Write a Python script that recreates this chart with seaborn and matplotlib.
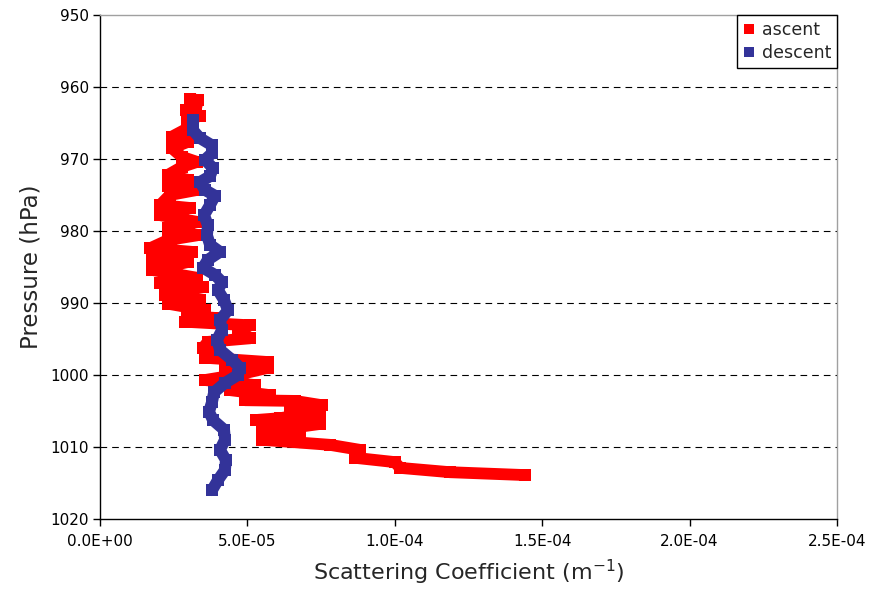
import numpy as np
import pandas as pd
import matplotlib
matplotlib.use("Agg")
import matplotlib.pyplot as plt
from matplotlib.lines import Line2D
from matplotlib.ticker import FuncFormatter
import seaborn as sns

# ---- data (scattering in units of 1e-5 m^-1, pressure in hPa) ----
ascent_pressure = [961.7, 961.8, 962.9, 963.2, 964.0, 964.6, 965.7, 966.9, 967.6, 968.5,
                   969.7, 970.4, 971.1, 972.2, 972.9, 973.8, 974.3, 975.0, 976.4, 976.8,
                   977.8, 978.75, 979.6, 980.6, 981.25, 982.4, 982.9, 983.75, 984.3, 985.4,
                   986.5, 987.2, 987.8, 988.9, 989.6, 990.1, 991.0, 991.8, 992.1, 992.6,
                   993.1, 994.0, 994.9, 995.4, 996.25, 996.8, 997.6, 998.2, 998.75, 999.0,
                   999.9, 1000.7, 1001.4, 1002.1, 1002.8, 1003.5, 1003.6, 1004.2, 1004.9, 1005.1,
                   1006.0, 1006.25, 1006.8, 1007.9, 1008.0, 1009.0, 1009.7, 1010.4, 1011.5, 1012.1,
                   1012.9, 1013.5, 1013.9]
ascent_scatter = [3.05, 3.32, 3.26, 2.92, 3.39, 2.95, 2.99, 2.44, 2.99, 2.44,
                  2.78, 3.29, 2.78, 2.31, 2.99, 2.31, 3.29, 2.37, 2.04, 3.05,
                  2.04, 3.32, 2.31, 3.29, 2.31, 1.70, 3.12, 1.76, 2.99, 1.76,
                  3.29, 2.04, 3.49, 2.20, 3.39, 2.31, 3.56, 2.95, 4.00, 2.88,
                  5.09, 4.68, 5.09, 3.66, 3.49, 3.87, 3.56, 5.70, 4.24, 5.70,
                  4.75, 3.56, 5.26, 4.41, 5.77, 4.92, 6.61, 7.53, 6.44, 7.46,
                  6.11, 5.29, 7.46, 5.50, 6.78, 5.50, 7.80, 8.82, 8.65, 10.0,
                  10.18, 11.87, 14.42]

descent_pressure = [964.6, 966.0, 967.1, 968.1, 969.2, 970.1, 971.25, 972.4, 973.2, 974.3,
                    975.1, 976.4, 977.8, 979.2, 980.6, 981.9, 982.9, 984.0, 985.1, 986.1,
                    987.1, 988.2, 989.6, 991.0, 992.4, 993.75, 995.1, 996.5, 997.9, 999.0,
                    1000.0, 1001.1, 1002.4, 1003.75, 1005.1, 1006.25, 1007.6, 1009.0, 1010.4, 1011.8,
                    1013.2, 1014.6, 1016.0]
descent_scatter = [3.15, 3.15, 3.39, 3.80, 3.80, 3.56, 3.83, 3.73, 3.39, 3.56,
                   3.90, 3.73, 3.53, 3.66, 3.63, 3.73, 4.07, 3.66, 3.49, 3.90,
                   4.14, 4.00, 4.21, 4.34, 4.07, 4.14, 3.97, 4.07, 4.48, 4.75,
                   4.68, 4.24, 3.87, 3.80, 3.70, 3.83, 4.21, 4.24, 4.07, 4.27,
                   4.24, 4.00, 3.80]

series_names = ["ascent", "descent"]
colors = {"ascent": "#FF0000", "descent": "#333399"}
x_ticks = [0.0, 5e-5, 1e-4, 1.5e-4, 2e-4, 2.5e-4]
y_ticks = [950, 960, 970, 980, 990, 1000, 1010, 1020]

df = pd.concat([
    pd.DataFrame({"pressure": ascent_pressure,
                  "scatter": np.array(ascent_scatter) * 1e-5,
                  "series": "ascent"}),
    pd.DataFrame({"pressure": descent_pressure,
                  "scatter": np.array(descent_scatter) * 1e-5,
                  "series": "descent"}),
], ignore_index=True)

sns.set_style("white")
plt.rcParams["font.family"] = ["DejaVu Sans"]
plt.rcParams["mathtext.fontset"] = "dejavusans"

fig = plt.figure(figsize=(8.75, 5.94), dpi=100)
ax = fig.add_axes([100 / 875, 1 - 519 / 594, 737 / 875, 504 / 594])

for name in series_names:
    sub = df[df["series"] == name]
    sns.lineplot(data=sub, x="scatter", y="pressure", sort=False, estimator=None,
                 color=colors[name], linewidth=8.5, marker="s", markersize=8.5,
                 markeredgewidth=0, solid_joinstyle="round", solid_capstyle="round",
                 ax=ax, legend=False)

ax.set_xlim(0, 2.5e-4)
ax.set_ylim(1020, 950)
ax.set_xticks(x_ticks)
ax.set_yticks(y_ticks)
ax.xaxis.set_major_formatter(FuncFormatter(lambda v, p: f"{v:.1E}"))

ax.yaxis.grid(True, color="black", linestyle=(0, (6, 4.5)), linewidth=0.8)
ax.xaxis.grid(False)
gls = ax.get_ygridlines()
gls[0].set_visible(False)
gls[-1].set_visible(False)
ax.set_axisbelow(True)

for s in ["left", "bottom"]:
    ax.spines[s].set_color("black")
    ax.spines[s].set_linewidth(1.0)
for s in ["top", "right"]:
    ax.spines[s].set_color("#a0a0a0")
    ax.spines[s].set_linewidth(1.0)

ax.tick_params(axis="both", direction="out", length=5, width=1, color="black",
               labelsize=11, labelcolor="black", bottom=True, left=True)
ax.tick_params(axis="x", pad=6)
ax.tick_params(axis="y", pad=3)

ax.set_xlabel("Scattering Coefficient (m$^{-1}$)", fontsize=16, labelpad=6)
ax.set_ylabel("Pressure (hPa)", fontsize=16.5, labelpad=6)

handles = [Line2D([0], [0], linestyle="none", marker="s", markersize=6.5,
                  markerfacecolor=colors[n], markeredgewidth=0) for n in series_names]
leg = ax.legend(handles, series_names, loc="upper right", bbox_to_anchor=(1.0, 1.0),
                frameon=True, fancybox=False, framealpha=1, edgecolor="black",
                fontsize=12.5, handlelength=0.6, handletextpad=0.45, borderpad=0.35,
                labelspacing=0.3, borderaxespad=0)
leg.get_frame().set_linewidth(1.0)

fig.savefig("out.png", dpi=100)
